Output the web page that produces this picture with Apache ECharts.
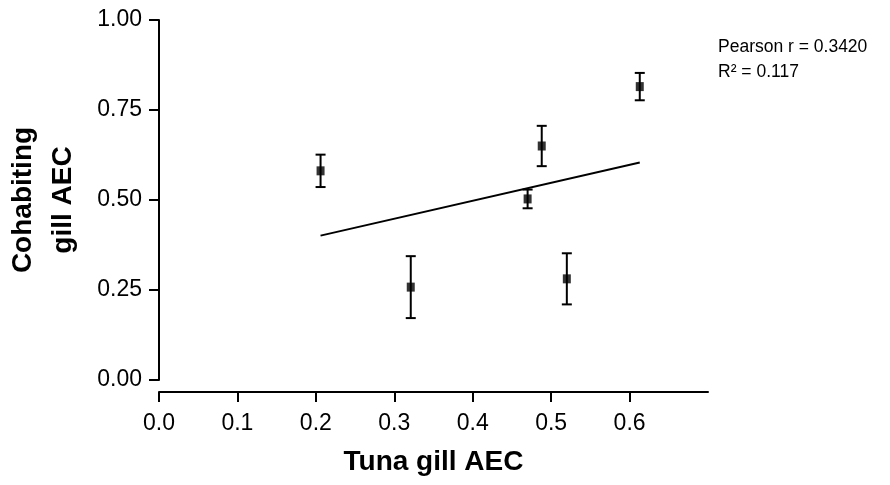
<!DOCTYPE html>
<html>
<head>
<meta charset="utf-8">
<script src="https://cdn.jsdelivr.net/npm/echarts@6/dist/echarts.min.js"></script>
<style>
  html, body { margin: 0; padding: 0; background: #ffffff; }
  #chart { width: 890px; height: 485px; }
</style>
</head>
<body>
<div id="chart"></div>
<script>
// Gill AEC: tuna vs. cohabiting fish (mean ± error)
const tunaAEC   = [0.206, 0.321, 0.470, 0.488, 0.520, 0.613];
const cohabAEC  = [0.581, 0.258, 0.503, 0.650, 0.281, 0.815];
const cohabErr  = [0.045, 0.086, 0.026, 0.056, 0.071, 0.038];

// Linear fit end points
const fitX = [0.206, 0.613];
const fitY = [0.401, 0.604];

// Tick positions
const xTicks = [0.0, 0.1, 0.2, 0.3, 0.4, 0.5, 0.6];
const yTicks = [0.00, 0.25, 0.50, 0.75, 1.00];

const statsLines = ['Pearson r = 0.3420', 'R\u00B2 = 0.117'];

const FONT = '"Liberation Sans", Arial, Helvetica, sans-serif';

const points = tunaAEC.map((x, i) => [x, cohabAEC[i]]);
const bars = tunaAEC.map((x, i) => [x, cohabAEC[i] - cohabErr[i], cohabAEC[i] + cohabErr[i]]);
const fitLine = fitX.map((x, i) => [x, fitY[i]]);

const chart = echarts.init(document.getElementById('chart'), null, { renderer: 'canvas' });

chart.setOption({
  backgroundColor: '#ffffff',
  animation: false,
  grid: {
    left: 159, right: 182, top: 20, bottom: 105,
    containLabel: false,
    outerBoundsMode: 'none'
  },
  xAxis: {
    type: 'value',
    min: 0,
    max: 0.7,
    interval: 0.1,
    offset: 12,
    name: 'Tuna gill AEC',
    nameLocation: 'middle',
    nameGap: 56,
    nameTextStyle: { fontFamily: FONT, fontSize: 28, fontWeight: 'bold', color: '#000' },
    axisLine: { show: true, onZero: false, lineStyle: { color: '#000', width: 2 } },
    axisTick: { show: true, length: 10, lineStyle: { color: '#000', width: 2 }, customValues: xTicks },
    axisLabel: {
      customValues: xTicks,
      formatter: v => v.toFixed(1),
      fontFamily: FONT, fontSize: 23, color: '#000', margin: 20
    },
    splitLine: { show: false }
  },
  yAxis: {
    type: 'value',
    min: 0,
    max: 1,
    interval: 0.25,
    name: 'Cohabiting\ngill AEC',
    nameLocation: 'middle',
    nameRotate: 90,
    nameGap: 76,
    nameTextStyle: { fontFamily: FONT, fontSize: 28, fontWeight: 'bold', color: '#000', lineHeight: 40 },
    axisLine: { show: true, onZero: false, lineStyle: { color: '#000', width: 2 } },
    axisTick: { show: true, length: 10, lineStyle: { color: '#000', width: 2 }, customValues: yTicks },
    axisLabel: {
      customValues: yTicks,
      formatter: v => v.toFixed(2),
      fontFamily: FONT, fontSize: 23, color: '#000', margin: 17
    },
    splitLine: { show: false }
  },
  graphic: [
    {
      type: 'text',
      left: 718,
      top: 35,
      style: {
        text: statsLines.join('\n'),
        font: '17.5px ' + FONT,
        fill: '#000',
        lineHeight: 25
      }
    }
  ],
  series: [
    {
      type: 'line',
      data: fitLine,
      symbol: 'none',
      lineStyle: { color: '#000', width: 2 },
      z: 2
    },
    {
      type: 'custom',
      data: bars,
      renderItem: function (params, api) {
        const x = api.value(0);
        const lo = api.coord([x, api.value(1)]);
        const hi = api.coord([x, api.value(2)]);
        const cap = 5;
        const style = { stroke: '#000', lineWidth: 2 };
        return {
          type: 'group',
          children: [
            { type: 'line', shape: { x1: lo[0], y1: lo[1], x2: hi[0], y2: hi[1] }, style },
            { type: 'line', shape: { x1: lo[0] - cap, y1: lo[1], x2: lo[0] + cap, y2: lo[1] }, style },
            { type: 'line', shape: { x1: hi[0] - cap, y1: hi[1], x2: hi[0] + cap, y2: hi[1] }, style }
          ]
        };
      },
      z: 3
    },
    {
      type: 'scatter',
      data: points,
      symbol: 'rect',
      symbolSize: [8, 9],
      itemStyle: { color: '#000' },
      z: 4
    }
  ]
});
</script>
</body>
</html>
